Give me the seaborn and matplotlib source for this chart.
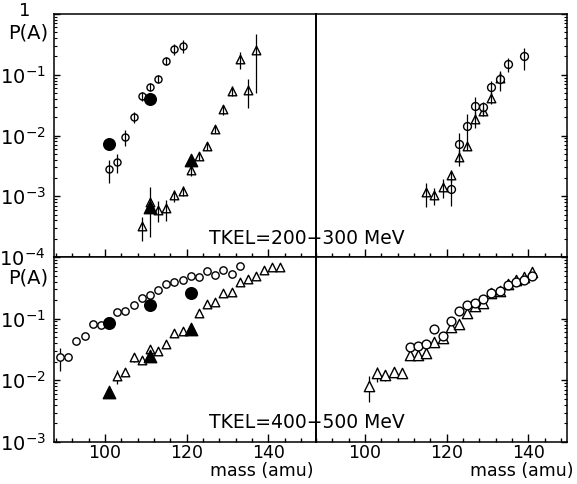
import matplotlib
matplotlib.use("Agg")

import matplotlib.pyplot as plt
import seaborn as sns
import numpy as np
import pandas as pd
from matplotlib.ticker import LogLocator, FixedLocator, FixedFormatter, NullFormatter

# ──────────────────────────────────────────────
# DATA
# ──────────────────────────────────────────────

# TKEL = 200-300 MeV, left half
tl_circ_mass = [101, 103, 105, 107, 109, 111, 113, 115, 117, 119]
tl_circ_p = [2.8e-3, 3.7e-3, 9.5e-3, 0.020, 0.044, 0.064, 0.086, 0.17, 0.27, 0.30]
tl_circ_err = [1.15e-3, 1.3e-3, 2.9e-3, 4.2e-3, 7.2e-3, 0.010, 0.014, 0.028, 0.055, 0.075]
tl_fcirc_mass = [101, 111]
tl_fcirc_p = [7.3e-3, 0.040]
tl_tri_mass = [109, 111, 113, 115, 117, 119, 121, 123, 125, 127, 129, 131, 133, 135, 137]
tl_tri_p = [3.2e-4, 8.1e-4, 6.0e-4, 6.3e-4, 1.05e-3, 1.23e-3, 2.7e-3, 4.6e-3, 6.7e-3,
            0.013, 0.027, 0.055, 0.18, 0.056, 0.26]
tl_tri_err = [1.4e-4, 6e-4, 2.2e-4, 2.4e-4, 2.4e-4, 2.3e-4, 5.5e-4, 7e-4, 1e-3,
              2e-3, 5e-3, 0.011, 0.055, 0.028, 0.21]
tl_ftri_mass = [111, 121]
tl_ftri_p = [6.6e-4, 4.0e-3]

# TKEL = 200-300 MeV, right half
tr_circ_mass = [121, 123, 125, 127, 129, 131, 133, 135, 139]
tr_circ_p = [1.3e-3, 7.3e-3, 0.0144, 0.031, 0.029, 0.063, 0.085, 0.149, 0.20]
tr_circ_err = [6e-4, 3.5e-3, 8e-3, 0.012, 0.0067, 0.015, 0.03, 0.04, 0.078]
tr_tri_mass = [115, 117, 119, 121, 123, 125, 127, 129, 131, 133]
tr_tri_p = [1.17e-3, 1.05e-3, 1.44e-3, 2.2e-3, 4.4e-3, 6.7e-3, 0.019, 0.025, 0.042, 0.090]
tr_tri_err = [5e-4, 3.4e-4, 5e-4, 5e-4, 1.3e-3, 1e-3, 5.5e-3, 3.7e-3, 9.5e-3, 0.02]

# TKEL = 400-500 MeV, left half
bl_circ_mass = [89, 91, 93, 95, 97, 99, 101, 103, 105, 107, 109, 111, 113, 115, 117, 119,
                121, 123, 125, 127, 129, 131, 133]
bl_circ_p = [0.024, 0.024, 0.043, 0.053, 0.083, 0.078, 0.09, 0.128, 0.135, 0.166, 0.22, 0.24,
             0.29, 0.36, 0.40, 0.42, 0.50, 0.47, 0.60, 0.51, 0.61, 0.54, 0.72]
bl_circ_err = [0.01, 0.003, 0.004, 0.004, 0.006, 0.005, 0.006, 0.008, 0.008, 0.01, 0.012, 0.012,
               0.015, 0.018, 0.02, 0.02, 0.025, 0.025, 0.03, 0.03, 0.03, 0.03, 0.04]
bl_fcirc_mass = [101, 111, 121]
bl_fcirc_p = [0.086, 0.165, 0.265]
bl_tri_mass = [103, 105, 107, 109, 111, 113, 115, 117, 119, 121, 123, 125, 127, 129, 131,
               133, 135, 137, 139, 141, 143]
bl_tri_p = [0.0118, 0.0139, 0.0235, 0.021, 0.0325, 0.0295, 0.039, 0.059, 0.064, 0.07, 0.125,
            0.17, 0.186, 0.26, 0.275, 0.386, 0.44, 0.50, 0.62, 0.68, 0.70]
bl_tri_err = [0.003, 0.002, 0.004, 0.002, 0.003, 0.002, 0.002, 0.003, 0.003, 0.004, 0.006,
              0.008, 0.008, 0.01, 0.01, 0.015, 0.015, 0.02, 0.02, 0.025, 0.025]
bl_ftri_mass = [101, 111, 121]
bl_ftri_p = [0.0065, 0.0245, 0.069]

# TKEL = 400-500 MeV, right half
br_tri_mass = [101, 103, 105, 107, 109, 111, 113, 115, 117, 119, 121, 123, 125, 127, 129,
               131, 133, 135, 137, 139, 141]
br_tri_p = [0.0081, 0.013, 0.0123, 0.0134, 0.013, 0.026, 0.026, 0.0276, 0.042, 0.048, 0.073,
            0.083, 0.125, 0.16, 0.177, 0.26, 0.28, 0.37, 0.43, 0.48, 0.58]
br_tri_err = [0.0037, 0.0037, 0.0025, 0.002, 0.002, 0.003, 0.003, 0.003, 0.003, 0.004, 0.005,
              0.006, 0.008, 0.01, 0.01, 0.012, 0.012, 0.015, 0.015, 0.02, 0.03]
br_circ_mass = [111, 113, 115, 117, 119, 121, 123, 125, 127, 129, 131, 133, 135, 137, 139, 141]
br_circ_p = [0.035, 0.036, 0.039, 0.068, 0.052, 0.093, 0.133, 0.166, 0.177, 0.21, 0.26, 0.28,
             0.355, 0.40, 0.43, 0.50]
br_circ_err = [0.004, 0.004, 0.004, 0.006, 0.005, 0.008, 0.01, 0.012, 0.012, 0.015, 0.018,
               0.02, 0.025, 0.025, 0.03, 0.03]

panel_titles = ["TKEL=200\u2212300 MeV", "TKEL=400\u2212500 MeV"]
x_ticks = [100, 120, 140]

# ──────────────────────────────────────────────
# STYLE
# ──────────────────────────────────────────────
sns.set_theme(style="ticks")
plt.rcParams["font.family"] = ["DejaVu Sans"]
plt.rcParams["mathtext.fontset"] = "dejavusans"
plt.rcParams["text.color"] = "black"
plt.rcParams["xtick.color"] = "black"
plt.rcParams["ytick.color"] = "black"

W, H = 577, 484
fig = plt.figure(figsize=(W / 100, H / 100), dpi=100)
gs = fig.add_gridspec(2, 2, width_ratios=[262, 251], height_ratios=[243, 185],
                      wspace=0, hspace=0, left=54 / W, right=567 / W,
                      top=1 - 14 / H, bottom=1 - 442 / H)
axes = [[fig.add_subplot(gs[r, c]) for c in range(2)] for r in range(2)]


def draw(ax, mass, p, err=None, marker="o", size=25, filled=False, bars_on_top=True):
    """Markers via seaborn, vertical error bars via matplotlib."""
    df = pd.DataFrame({"mass": mass, "p": p})
    sns.scatterplot(data=df, x="mass", y="p", ax=ax, marker=marker, s=size,
                    color="black" if filled else "white", edgecolor="black",
                    linewidth=1.0, zorder=3, legend=False)
    if err is not None:
        ax.errorbar(mass, p, yerr=err, fmt="none", ecolor="black", elinewidth=0.9,
                    capsize=0, zorder=4 if bars_on_top else 2)


# top-left
ax = axes[0][0]
draw(ax, tl_circ_mass, tl_circ_p, tl_circ_err, "o", 26)
draw(ax, tl_tri_mass, tl_tri_p, tl_tri_err, "^", 38)
draw(ax, tl_fcirc_mass, tl_fcirc_p, None, "o", 70, filled=True)
draw(ax, tl_ftri_mass, tl_ftri_p, None, "^", 80, filled=True)

# top-right
ax = axes[0][1]
draw(ax, tr_tri_mass, tr_tri_p, tr_tri_err, "^", 38)
draw(ax, tr_circ_mass, tr_circ_p, tr_circ_err, "o", 32)

# bottom-left
ax = axes[1][0]
draw(ax, bl_circ_mass, bl_circ_p, bl_circ_err, "o", 28, bars_on_top=False)
draw(ax, bl_tri_mass, bl_tri_p, bl_tri_err, "^", 38, bars_on_top=False)
draw(ax, bl_fcirc_mass, bl_fcirc_p, None, "o", 70, filled=True)
draw(ax, bl_ftri_mass, bl_ftri_p, None, "^", 80, filled=True)

# bottom-right
ax = axes[1][1]
draw(ax, br_tri_mass, br_tri_p, br_tri_err, "^", 55, bars_on_top=False)
draw(ax, br_circ_mass, br_circ_p, br_circ_err, "o", 40, bars_on_top=False)

# ──────────────────────────────────────────────
# AXES
# ──────────────────────────────────────────────
ylims = [(1e-4, 1.0), (1e-3, 1.0)]
ylabels = [["", "$10^{-1}$", "$10^{-2}$", "$10^{-3}$", "$10^{-4}$"],
           ["", "$10^{-1}$", "$10^{-2}$", "$10^{-3}$"]]
xlims = [(87.5, 151.7), (88.0, 149.5)]

for r in range(2):
    for c in range(2):
        ax = axes[r][c]
        ax.set_yscale("log")
        ax.set_ylim(*ylims[r])
        ax.set_xlim(*xlims[c])
        ax.set_xlabel("")
        ax.set_ylabel("")
        for s in ax.spines.values():
            s.set_linewidth(1.1)
            s.set_color("black")
        if c == 1:
            ax.spines["left"].set_linewidth(1.4)

        # x ticks: bottom, inward
        ax.xaxis.set_major_locator(FixedLocator(x_ticks))
        ax.xaxis.set_minor_locator(FixedLocator(np.arange(88, 152, 4)))
        ax.tick_params(axis="x", which="major", direction="in", length=6, width=1,
                       bottom=True, top=False, pad=1.5, labelsize=12.5, colors="black")
        ax.tick_params(axis="x", which="minor", direction="in", length=3, width=1,
                       bottom=True, top=False)
        if r == 0:
            ax.tick_params(axis="x", labelbottom=False)

        # y ticks: inward on outer edges only
        ax.yaxis.set_minor_locator(LogLocator(base=10, subs=np.arange(2, 10), numticks=20))
        ax.yaxis.set_minor_formatter(NullFormatter())
        if c == 0:
            ax.tick_params(axis="y", which="both", direction="in", left=True, right=False,
                           labelleft=True, labelsize=14, pad=6, colors="black")
            decades = [10.0 ** -k for k in range(len(ylabels[r]))]
            ax.yaxis.set_major_locator(FixedLocator(decades))
            ax.yaxis.set_major_formatter(FixedFormatter(ylabels[r]))
        else:
            ax.yaxis.set_major_locator(LogLocator(base=10, numticks=10))
            ax.tick_params(axis="y", which="both", direction="in", left=False, right=True,
                           labelleft=False, labelright=False)
        ax.tick_params(axis="y", which="major", length=4.5, width=1)
        ax.tick_params(axis="y", which="minor", length=2.5, width=0.8)

# ──────────────────────────────────────────────
# TEXT
# ──────────────────────────────────────────────
def ftext(x, y, s, **kw):
    fig.text(x / W, 1 - y / H, s, color="black", **kw)

ftext(25, 11, "1", ha="center", va="center", fontsize=13)
ftext(28, 33, "P(A)", ha="center", va="center", fontsize=14)
ftext(28, 278, "P(A)", ha="center", va="center", fontsize=14)
ftext(307, 238, panel_titles[0], ha="center", va="center", fontsize=13.5)
ftext(307, 423, panel_titles[1], ha="center", va="center", fontsize=13.5)
ftext(313, 471, "mass (amu)", ha="right", va="center", fontsize=12.5)
ftext(574, 471, "mass (amu)", ha="right", va="center", fontsize=12.5)

fig.savefig("out.png", dpi=100, facecolor="white")
plt.close(fig)
